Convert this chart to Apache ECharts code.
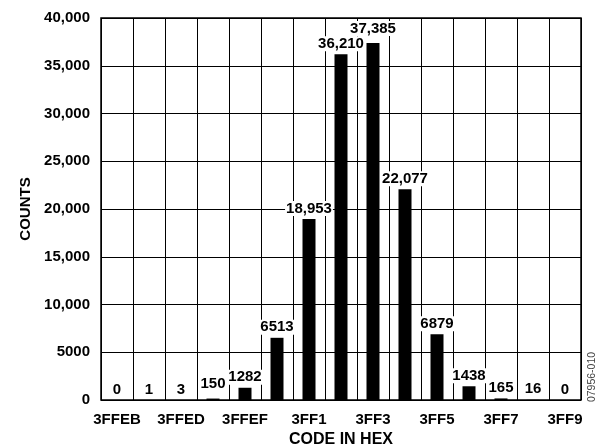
<!DOCTYPE html>
<html><head><meta charset="utf-8">
<script src="https://cdn.jsdelivr.net/npm/echarts@6/dist/echarts.min.js"></script>
<style>html,body{margin:0;padding:0;background:#fff}#c{width:613px;height:447px}</style>
</head><body><div id="c"></div>
<script>
const codes = ['3FFEB','3FFEC','3FFED','3FFEE','3FFEF','3FFF0','3FFF1','3FFF2','3FFF3','3FFF4','3FFF5','3FFF6','3FFF7','3FFF8','3FFF9'];
const tickLabels = ['3FFEB','','3FFED','','3FFEF','','3FF1','','3FF3','','3FF5','','3FF7','','3FF9'];
const counts = [0, 1, 3, 150, 1282, 6513, 18953, 36210, 37385, 22077, 6879, 1438, 165, 16, 0];
const yTicks = [0, 5000, 10000, 15000, 20000, 25000, 30000, 35000, 40000];

const FONT = 'Liberation Sans, Arial, Helvetica, sans-serif';
function fmt(v){ return v >= 10000 ? v.toLocaleString('en-US') : String(v); }

const chart = echarts.init(document.getElementById('c'), null, {renderer:'canvas'});
chart.setOption({
  animation:false,
  grid:{left:101, right:32, top:18, bottom:47, outerBoundsMode:'none', containLabel:false,
        show:true, borderColor:'#000', borderWidth:1.5, backgroundColor:'transparent'},
  xAxis:{
    type:'category', data:codes, boundaryGap:true,
    axisLine:{show:false}, axisTick:{show:false},
    splitLine:{show:true, interval:0, lineStyle:{color:'#000', width:1}},
    axisLabel:{interval:0, margin:12, color:'#000', fontFamily:FONT, fontWeight:'bold', fontSize:15,
      formatter:(v,i)=>tickLabels[i]},
    name:'CODE IN HEX', nameLocation:'middle', nameGap:32,
    nameTextStyle:{color:'#000', fontFamily:FONT, fontWeight:'bold', fontSize:16}
  },
  yAxis:{
    type:'value', min:yTicks[0], max:yTicks[yTicks.length-1], interval:5000,
    axisLine:{show:false}, axisTick:{show:false},
    splitLine:{show:true, lineStyle:{color:'#000', width:1}},
    axisLabel:{margin:11, color:'#000', fontFamily:FONT, fontWeight:'bold', fontSize:15, formatter:fmt},
    name:'COUNTS', nameLocation:'middle', nameGap:68, nameRotate:90,
    nameTextStyle:{color:'#000', fontFamily:FONT, fontWeight:'bold', fontSize:15}
  },
  series:[{
    type:'bar', data:counts.map((v,i)=>({value:v, label: (i===8 || i===3) ? {distance:7} : {}})),
    barWidth:13, itemStyle:{color:'#000'},
    label:{show:true, position:'top', distance:3, color:'#000', fontFamily:FONT, fontWeight:'bold', fontSize:15,
      backgroundColor:'#fff', padding:[0,1,0,1], formatter:p=>fmt(p.value)}
  }],
  graphic:[{
    type:'text', x:592, y:377, rotation:Math.PI/2, origin:[0,0],
    style:{text:'07956-010', fill:'#444', font:'10.5px '+FONT, align:'center', verticalAlign:'middle'}
  }]
});
</script></body></html>
